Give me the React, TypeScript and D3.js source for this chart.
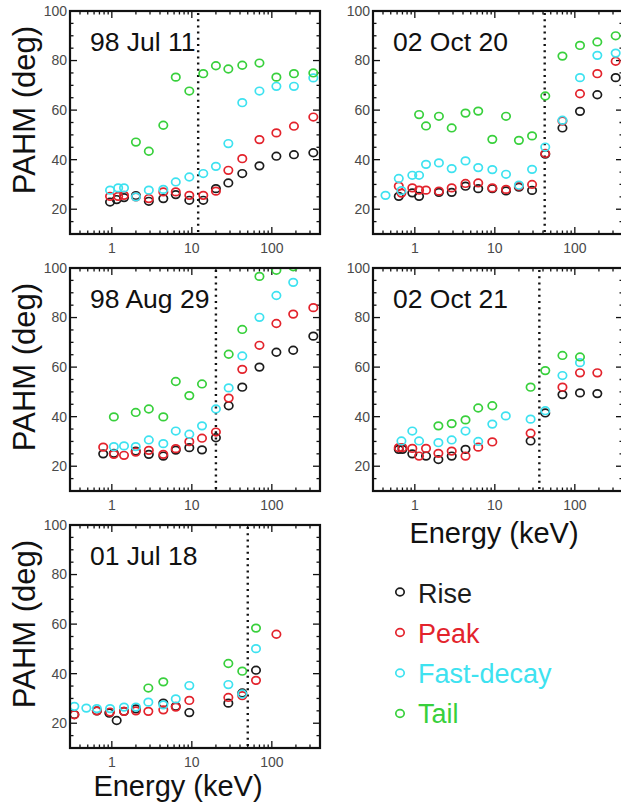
import React from 'react';
import * as d3 from 'd3';

type Pt = [number, number]; // [energy keV, PAHM deg]

// 98 Jul 11
const jul11Rise: Pt[] = [[0.95,22.9],[1.15,23.9],[1.42,24.7],[2.0,25.5],[2.9,23.2],[4.4,24.3],[6.3,25.9],[9.3,23.6],[13.9,23.6],[20,28.3],[28.6,30.6],[42.7,34.4],[70,37.5],[114,41.4],[189,42],[330,42.8]];
const jul11Peak: Pt[] = [[0.95,25.2],[1.2,25.2],[1.42,25.6],[2.0,25],[2.9,24.3],[4.4,27],[6.3,27],[9.3,25.6],[13.9,25.6],[20,27.3],[28.6,35.7],[42.7,40.4],[70,48.1],[114,50.8],[189,53.5],[330,57.2]];
const jul11Fast: Pt[] = [[0.95,27.7],[1.2,28.6],[1.42,28.6],[2.0,25],[2.9,27.7],[4.4,28],[6.3,31],[9.3,33],[13.9,34.4],[20,37.3],[28.6,46.5],[42.7,63],[70,67.7],[114,69.6],[189,69.6],[330,73]];
const jul11Tail: Pt[] = [[2.0,47.1],[2.9,43.4],[4.4,53.9],[6.3,73.3],[9.3,67.7],[13.9,74.7],[20,77.9],[28.6,76.6],[42.7,78.1],[70,79],[114,73.3],[189,74.7],[330,75]];

// 02 Oct 20
const oct20Rise: Pt[] = [[0.63,25.2],[0.93,26.6],[1.13,25.2],[2.0,26.8],[2.89,26.8],[4.3,29.3],[6.2,28.3],[9.3,28.3],[13.8,27.4],[20,28.9],[29.2,27.6],[42.7,42.2],[70,52.8],[116,59.5],[191,66.2],[324,73.1]];
const oct20Peak: Pt[] = [[0.63,29.3],[0.68,26.5],[0.93,28.6],[1.13,27.7],[1.38,27.7],[2.0,27.3],[2.89,28.6],[4.3,30.4],[6.2,30.6],[9.3,28.6],[13.8,28],[20,29.3],[29.2,30],[42.7,42.5],[70,55.6],[116,66.6],[191,74.7],[324,79.7]];
const oct20Fast: Pt[] = [[0.43,25.6],[0.63,32.4],[0.68,27.5],[0.93,33.7],[1.13,33.7],[1.38,38.1],[2.0,38.7],[2.89,36.4],[4.3,39.5],[6.2,36.8],[9.3,36],[13.8,34.1],[20,29.7],[29.2,36.1],[42.7,45.1],[70,55.9],[116,73.1],[191,82.1],[324,83]];
const oct20Tail: Pt[] = [[1.13,58.2],[1.38,53.6],[2.0,57.5],[2.89,52.8],[4.3,58.8],[6.2,59.6],[9.3,48.2],[13.8,57.5],[20,47.8],[29.2,49.6],[42.7,65.7],[70,81.8],[116,86.1],[191,87.5],[324,90]];

// 98 Aug 29
const aug29Rise: Pt[] = [[0.78,25],[1.06,25.2],[1.99,26.1],[2.9,24.8],[4.4,24.1],[6.3,26.5],[9.3,27.5],[13.4,26.6],[20,31.5],[28.9,44.4],[42.7,51.9],[70,60],[114,66],[185,66.8],[330,72.5]];
const aug29Peak: Pt[] = [[0.78,27.7],[1.06,24.8],[1.42,24.4],[1.99,25.7],[2.9,26.4],[4.4,24.8],[6.3,27.1],[9.3,29.9],[13.4,31.3],[20,33.8],[28.9,47.5],[42.7,59.1],[70,68.8],[114,77.6],[185,81.4],[330,84]];
const aug29Fast: Pt[] = [[1.06,27.9],[1.42,28.2],[1.99,27.9],[2.9,30.6],[4.4,29.1],[6.3,34.2],[9.3,32.9],[13.4,36.3],[20,43.1],[28.9,51.6],[42.7,64.5],[70,80.1],[114,88.9],[185,94.2]];
const aug29Tail: Pt[] = [[1.06,39.9],[1.99,41.7],[2.9,43.1],[4.4,39.9],[6.3,54.2],[9.3,48.5],[13.4,53.2],[28.9,65.2],[42.7,75.2],[70,96.6],[114,99.1],[185,100.5]];

// 02 Oct 21
const oct21Rise: Pt[] = [[0.63,26.8],[0.7,26.8],[0.93,25],[1.38,24.1],[1.97,22.7],[2.89,24.1],[4.3,26.8],[28,30.2],[42.7,41.5],[70,48.9],[116,49.6],[191,49.3]];
const oct21Peak: Pt[] = [[0.63,27.5],[0.7,27.5],[0.93,27.2],[1.13,24.1],[1.38,27.2],[1.97,25.2],[2.89,26.1],[4.3,24.1],[6.2,27.7],[9.3,29.8],[28,33.3],[70,51.9],[116,57.7],[191,57.7]];
const oct21Fast: Pt[] = [[0.68,30.2],[0.93,34.2],[1.13,30.2],[1.97,29.5],[2.89,30.6],[4.3,34.2],[6.2,30],[9.3,37],[13.7,40.3],[28,39],[42.7,42.4],[70,56.6],[116,61.8]];
const oct21Tail: Pt[] = [[1.97,36.3],[2.89,37.2],[4.3,38.7],[6.2,43.5],[9.3,44.4],[28,51.9],[42.7,58.6],[70,64.7],[116,64.1]];

// 01 Jul 18
const jul18Rise: Pt[] = [[0.34,23.5],[0.65,25],[0.93,24.1],[1.15,21.1],[1.42,24.8],[2.0,25.8],[4.4,28.1],[6.3,26.8],[9.3,24.3],[28.6,28.1],[42.7,32.2],[63.4,41.4]];
const jul18Peak: Pt[] = [[0.34,23.4],[0.65,25],[0.95,24.5],[1.42,24.8],[2.0,25],[2.86,24.8],[4.4,25.4],[6.3,26.5],[9.3,29.2],[28.6,30.4],[42.7,31.1],[63.4,37.3],[114,55.9]];
const jul18Fast: Pt[] = [[0.34,26.8],[0.48,26.1],[0.65,25.9],[0.95,25.9],[1.42,26.5],[2.0,26.5],[2.86,28.5],[4.4,27.4],[6.3,29.8],[9.3,35.2],[28.6,35.6],[42.7,31.8],[63.4,50.1]];
const jul18Tail: Pt[] = [[2.86,34.2],[4.4,36.7],[28.6,44.1],[42.7,41],[63.4,58.4]];

const seriesNames = ['Rise', 'Peak', 'Fast-decay', 'Tail'];
const seriesColors = ['#1c1c1c', '#e3232c', '#3ee2f0', '#38d03c'];

const yTickValues = [20, 40, 60, 80, 100];
const xTickValues = [1, 10, 100];

const FONT = '"Liberation Sans", Arial, Helvetica, sans-serif';
const W = 250;
const H = 223;

interface PanelSpec {
  title: string;
  left: number;
  top: number;
  boundary: number;
  series: Pt[][];
  yLabel: boolean;
  xLabelX: number | null;
}

const panels: PanelSpec[] = [
  { title: '98 Jul 11', left: 70, top: 11, boundary: 12, series: [jul11Rise, jul11Peak, jul11Fast, jul11Tail], yLabel: true, xLabelX: null },
  { title: '02 Oct 20', left: 373, top: 11, boundary: 42, series: [oct20Rise, oct20Peak, oct20Fast, oct20Tail], yLabel: false, xLabelX: null },
  { title: '98 Aug 29', left: 70, top: 268, boundary: 20, series: [aug29Rise, aug29Peak, aug29Fast, aug29Tail], yLabel: true, xLabelX: null },
  { title: '02 Oct 21', left: 373, top: 268, boundary: 36, series: [oct21Rise, oct21Peak, oct21Fast, oct21Tail], yLabel: false, xLabelX: 494 },
  { title: '01 Jul 18', left: 70, top: 525, boundary: 50, series: [jul18Rise, jul18Peak, jul18Fast, jul18Tail], yLabel: true, xLabelX: 178 },
];

function Panel({ p, idx }: { p: PanelSpec; idx: number }) {
  const x = d3.scaleLog().domain([0.3, 400]).range([p.left, p.left + W]);
  const y = d3.scaleLinear().domain([10, 100]).range([p.top + H, p.top]);
  const bottom = p.top + H;
  const right = p.left + W;

  const xMinor: number[] = [];
  for (let d = -1; d <= 2; d++) {
    for (let k = 1; k <= 9; k++) {
      const v = k * Math.pow(10, d);
      if (v > 0.3 && v < 400) xMinor.push(v);
    }
  }
  const yAll = d3.range(15, 100, 5);
  const clipId = `clip-${idx}`;

  return (
    <g>
      <defs>
        <clipPath id={clipId}>
          <rect x={p.left} y={p.top} width={W} height={H} />
        </clipPath>
      </defs>
      {/* ticks on all four sides, pointing inward */}
      {xMinor.map((v) => {
        const major = xTickValues.includes(v);
        const len = major ? 7 : 3.5;
        const xx = x(v);
        return (
          <g key={`xt${v}`} stroke="#111" strokeWidth={1.3}>
            <line x1={xx} x2={xx} y1={bottom} y2={bottom - len} />
            <line x1={xx} x2={xx} y1={p.top} y2={p.top + len} />
          </g>
        );
      })}
      {yAll.map((v) => {
        const major = v % 20 === 0;
        const len = major ? 7 : 3.5;
        const yy = y(v);
        return (
          <g key={`yt${v}`} stroke="#111" strokeWidth={1.3}>
            <line x1={p.left} x2={p.left + len} y1={yy} y2={yy} />
            <line x1={right} x2={right - len} y1={yy} y2={yy} />
          </g>
        );
      })}
      {/* tick labels */}
      {yTickValues.map((v) => (
        <text key={`yl${v}`} x={p.left - 3} y={y(v)} dy="0.35em" textAnchor="end"
          fontFamily={FONT} fontSize={14} fill="#4a4a4a">{v}</text>
      ))}
      {xTickValues.map((v) => (
        <text key={`xl${v}`} x={x(v)} y={bottom + 19} textAnchor="middle"
          fontFamily={FONT} fontSize={14} fill="#4a4a4a">{v}</text>
      ))}
      {/* boundary marker */}
      <line x1={x(p.boundary)} x2={x(p.boundary)} y1={p.top + 2} y2={bottom - 2}
        stroke="#111" strokeWidth={2.4} strokeDasharray="2 4.2" />
      {/* data */}
      <g clipPath={`url(#${clipId})`}>
        {p.series.map((s, si) => (
          <g key={si} fill="none" stroke={seriesColors[si]} strokeWidth={1.7}>
            {s.map((d, i) => (
              <ellipse key={i} cx={x(d[0])} cy={y(d[1])} rx={4.2} ry={3.8} />
            ))}
          </g>
        ))}
      </g>
      {/* frame */}
      <rect x={p.left} y={p.top} width={W} height={H} fill="none" stroke="#111" strokeWidth={2.2} />
      <text x={p.left + 20} y={p.top + 40} fontFamily={FONT} fontSize={26.5} fill="#111">{p.title}</text>
      {p.yLabel && (
        <text transform={`translate(35,${p.top + 99}) rotate(-90)`} textAnchor="middle"
          fontFamily={FONT} fontSize={31} fill="#111">PAHM (deg)</text>
      )}
      {p.xLabelX !== null && (
        <text x={p.xLabelX} y={Math.min(bottom + 52, 796)} textAnchor="middle"
          fontFamily={FONT} fontSize={29} fill="#111">Energy (keV)</text>
      )}
    </g>
  );
}

export default function App() {
  return (
    <svg width={621} height={802} style={{ position: 'absolute', left: 0, top: 0, background: '#fff' }}>
      <rect x={0} y={0} width={621} height={802} fill="#fff" />
      {panels.map((p, i) => (
        <Panel key={p.title} p={p} idx={i} />
      ))}
      {/* legend */}
      {seriesNames.map((name, i) => (
        <g key={name}>
          <ellipse cx={400} cy={592 + i * 40.5} rx={4.2} ry={3.8} fill="none"
            stroke={seriesColors[i]} strokeWidth={1.7} />
          <text x={418} y={603 + i * 40} fontFamily={FONT} fontSize={27} fill={seriesColors[i]}>{name}</text>
        </g>
      ))}
    </svg>
  );
}
